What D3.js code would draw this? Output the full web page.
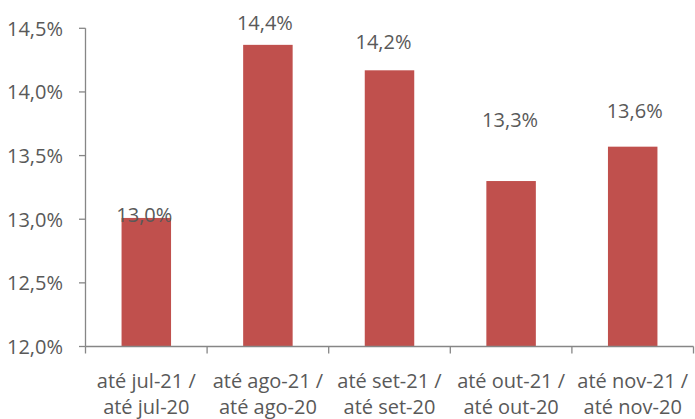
<!DOCTYPE html>
<html>
<head>
<meta charset="utf-8">
<script src="https://cdn.jsdelivr.net/npm/d3@7"></script>
<style>
  html, body { margin: 0; padding: 0; background: #fff; }
  svg { display: block; }
  text { font-family: "Open Sans", "Noto Sans", sans-serif; fill: #595959; }
</style>
</head>
<body>
<svg id="chart" width="695" height="419"></svg>
<script>
// ---- data ----
const categories = [
  ["até jul-21 /", "até jul-20"],
  ["até ago-21 /", "até ago-20"],
  ["até set-21 /", "até set-20"],
  ["até out-21 /", "até out-20"],
  ["até nov-21 /", "até nov-20"]
];
const values = [13.01, 14.37, 14.17, 13.30, 13.57];
const valueLabels = ["13,0%", "14,4%", "14,2%", "13,3%", "13,6%"];
const yTicks = [12.0, 12.5, 13.0, 13.5, 14.0, 14.5];
const yTickLabels = ["12,0%", "12,5%", "13,0%", "13,5%", "14,0%", "14,5%"];

// ---- layout (manual data-label placement as in the original) ----
const labelLift = [-4, 15, 21, 54, 29];   // px between bar top and label baseline
const labelShift = [-2, -3, -6, -1, 2];   // px horizontal nudge
const fontSize = "20px";

const svg = d3.select("#chart");
const x0 = 85.5, x1 = 693.5, yTop = 28.3, yBot = 346.5;

const x = d3.scaleBand().domain(d3.range(categories.length)).range([x0, x1])
  .paddingInner(0.593).paddingOuter(0.2965);
const xb = d3.scaleBand().domain(d3.range(categories.length)).range([x0, x1]);
const y = d3.scaleLinear().domain([12, 14.5]).range([yBot, yTop]);

const axisColor = "#868686";

// bars
svg.append("g").selectAll("rect").data(values).join("rect")
  .attr("x", (d, i) => x(i))
  .attr("width", x.bandwidth())
  .attr("y", d => y(d))
  .attr("height", d => y(12) - y(d))
  .attr("fill", "#C0504D");

// y axis
const gy = svg.append("g");
gy.append("line").attr("x1", x0).attr("x2", x0).attr("y1", y(14.5)).attr("y2", y(12))
  .attr("stroke", axisColor).attr("stroke-width", 1.3);
gy.selectAll("line.t").data(yTicks).join("line").attr("class", "t")
  .attr("x1", x0 - 6.5).attr("x2", x0).attr("y1", d => y(d)).attr("y2", d => y(d))
  .attr("stroke", axisColor).attr("stroke-width", 1.3);
gy.selectAll("text").data(yTicks).join("text")
  .attr("x", 63).attr("y", d => y(d) + 7.5)
  .attr("text-anchor", "end")
  .style("font-size", fontSize)
  .text((d, i) => yTickLabels[i]);

// x axis
const gx = svg.append("g");
gx.append("line").attr("x1", x0).attr("x2", x1).attr("y1", yBot).attr("y2", yBot)
  .attr("stroke", axisColor).attr("stroke-width", 1.3);
const xTickPos = d3.range(categories.length).map(i => xb(i)).concat([x1]);
gx.selectAll("line.t").data(xTickPos).join("line").attr("class", "t")
  .attr("x1", d => d).attr("x2", d => d).attr("y1", yBot).attr("y2", yBot + 7)
  .attr("stroke", axisColor).attr("stroke-width", 1.3);
const lbl = gx.selectAll("g.lbl").data(categories).join("g").attr("class", "lbl")
  .attr("transform", (d, i) => `translate(${xb(i) + xb.bandwidth() / 2},0)`);
lbl.each(function(d) {
  const g = d3.select(this);
  d.forEach((line, k) => {
    g.append("text")
      .attr("x", 0).attr("y", 388 + k * 26)
      .attr("text-anchor", "middle")
      .style("font-size", fontSize)
      .text(line);
  });
});

// data labels
svg.append("g").selectAll("text").data(values).join("text")
  .attr("x", (d, i) => x(i) + x.bandwidth() / 2 + labelShift[i])
  .attr("y", (d, i) => y(d) - labelLift[i])
  .attr("text-anchor", "middle")
  .style("font-size", fontSize)
  .text((d, i) => valueLabels[i]);
</script>
</body>
</html>
